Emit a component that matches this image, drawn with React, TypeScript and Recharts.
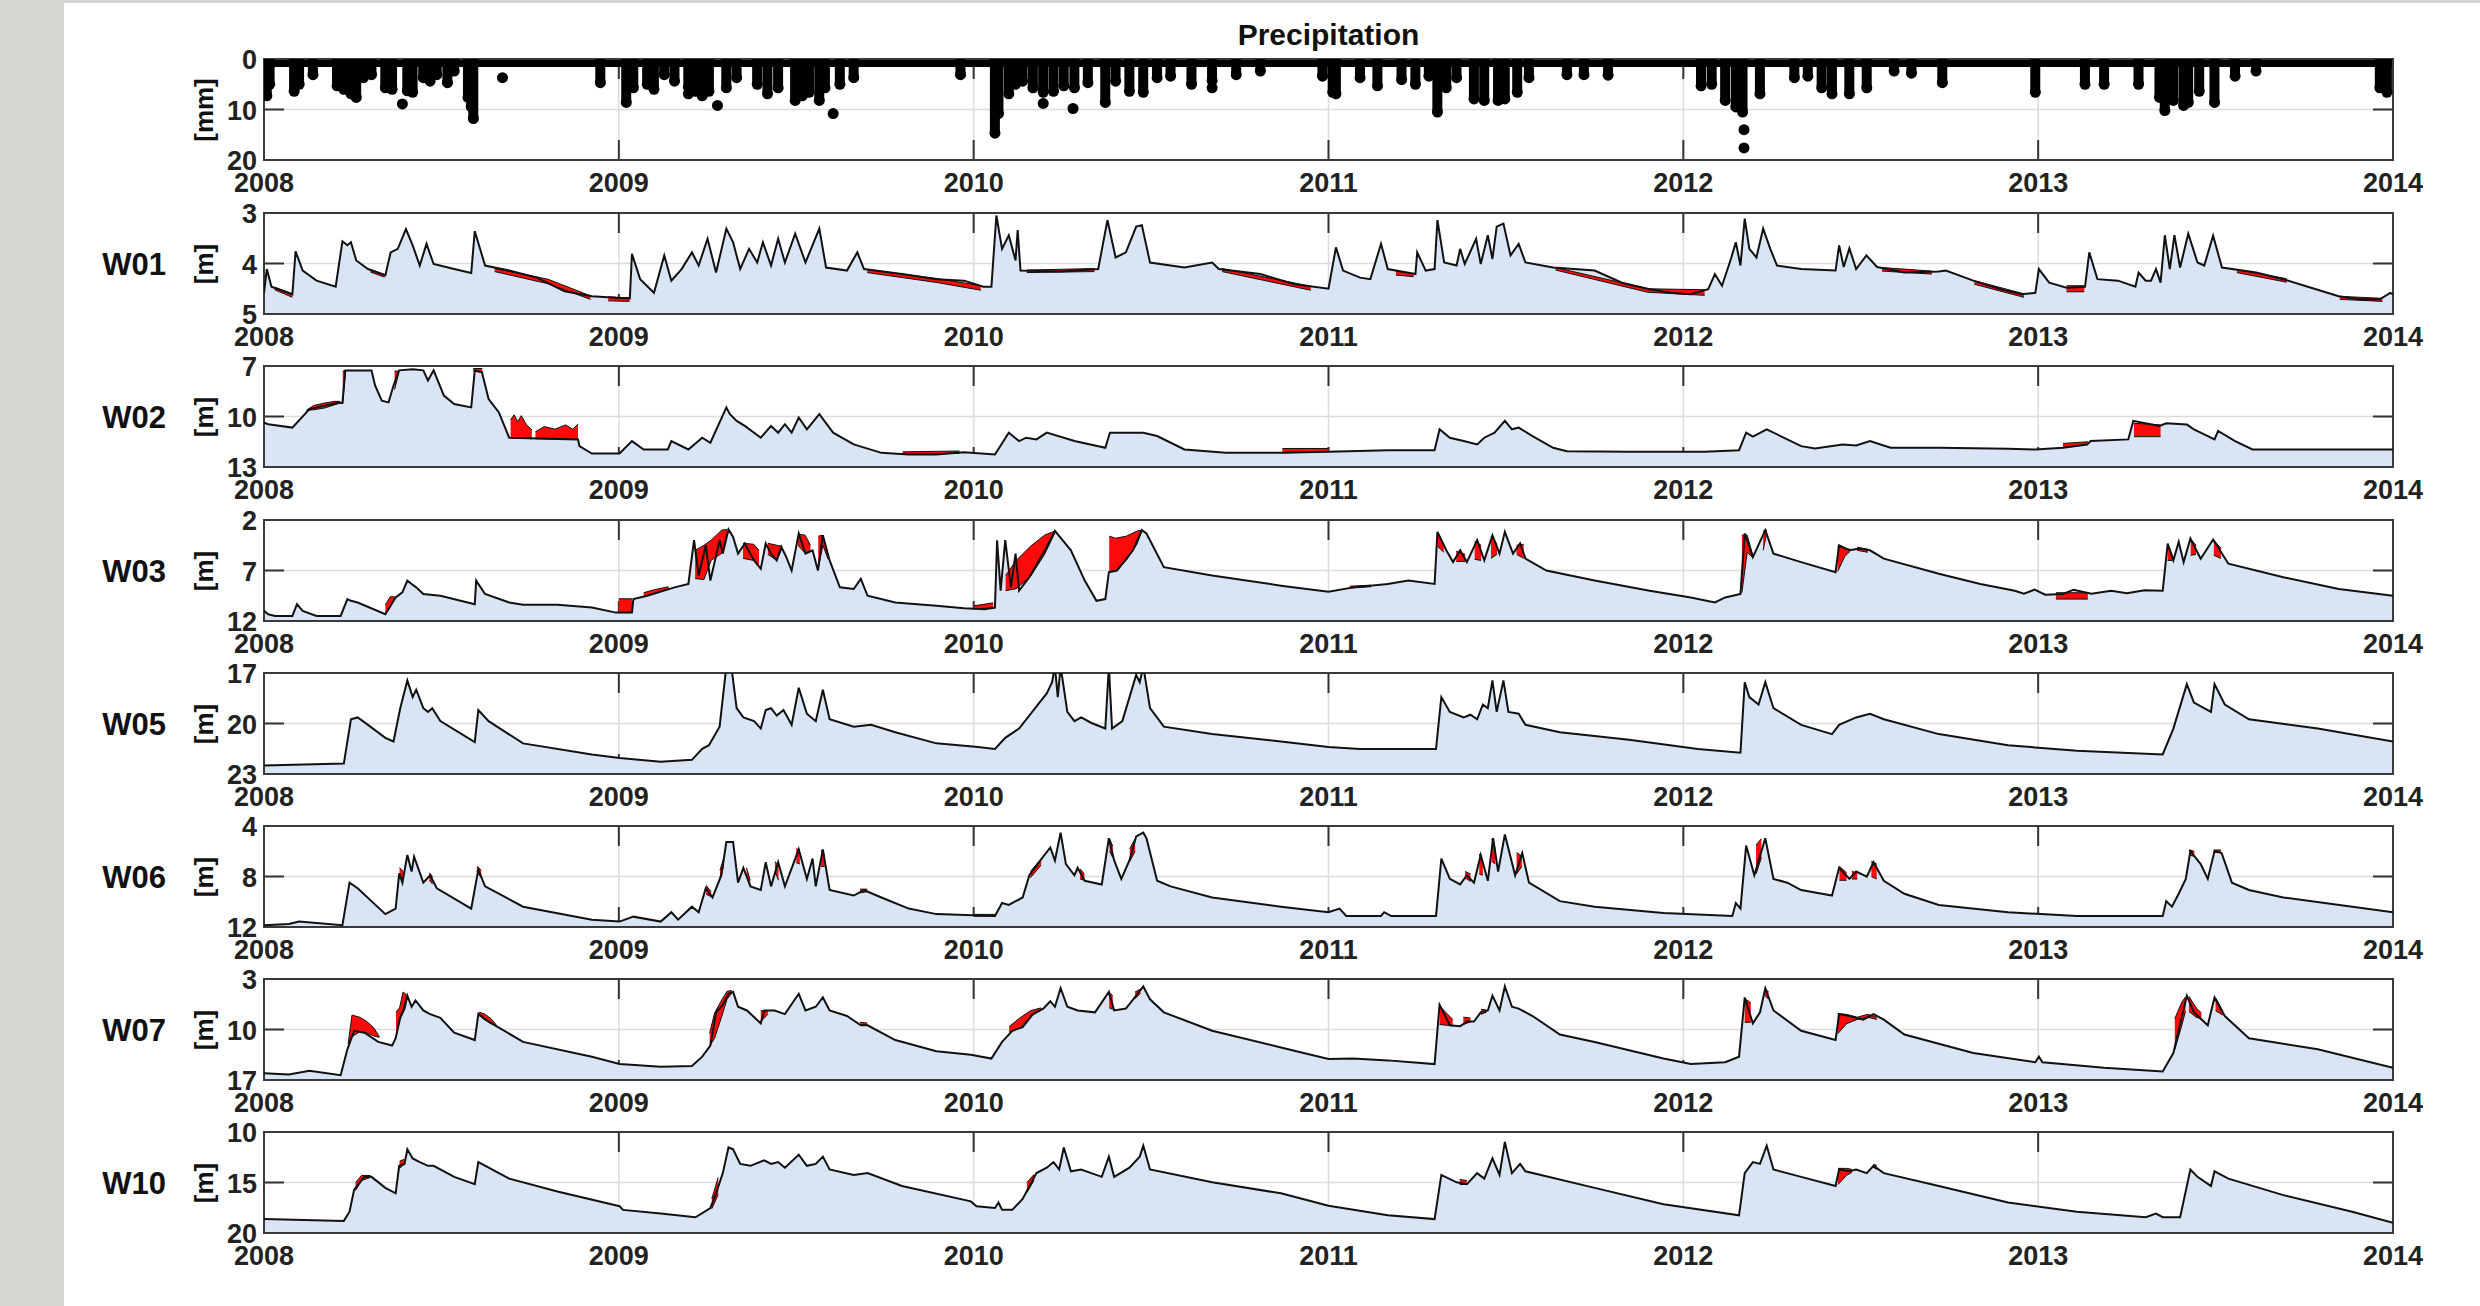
import React from "react";
import {
  Area,
  Bar,
  CartesianGrid,
  ComposedChart,
  Line,
  ReferenceArea,
  Scatter,
  XAxis,
  YAxis,
} from "recharts";

const FONT = '"Liberation Sans", Arial, Helvetica, sans-serif';
const YEARS = [2008, 2009, 2010, 2011, 2012, 2013, 2014];

// layout of the figure (px)
const PAGE_W = 2480;
const PAGE_H = 1306;
const PLOT_LEFT = 264;
const PLOT_RIGHT = 2393;
const PLOT_H = 101;
const PAD_TOP = 20;
const AXIS_H = 45;
const Y_AXIS_W = 60;
const TICK_LEN = 20;
const PANEL_TOPS = [59, 213, 366, 520, 673, 826, 979, 1132];
const COL_W = 10;

const BLUE = "#d9e5f5";
const RED = "#ff0a0a";
const TEXT = "#222";

type Pt = [number, number];
type Band = [number, number, number][];

// ---- precipitation [mm], columns of event depth and loose dots
const precipCols: Pt[] = [
  [2008.008, 7.3], [2008.016, 5.0], [2008.085, 6.4], [2008.099, 5.0], [2008.138, 3.1],
  [2008.206, 5.3], [2008.225, 6.0], [2008.245, 6.9], [2008.26, 7.6], [2008.28, 3.7],
  [2008.303, 3.1], [2008.342, 5.7], [2008.361, 6.0], [2008.404, 6.3], [2008.419, 6.6],
  [2008.449, 3.7], [2008.468, 4.4], [2008.487, 3.1], [2008.517, 4.7], [2008.536, 2.4],
  [2008.575, 7.6], [2008.584, 9.5], [2008.59, 11.8], [2008.948, 4.7], [2009.021, 8.6],
  [2009.041, 5.7], [2009.08, 5.0], [2009.099, 6.0], [2009.128, 3.1], [2009.157, 4.4],
  [2009.196, 5.6], [2009.216, 6.4], [2009.235, 7.3], [2009.254, 6.4], [2009.303, 5.7],
  [2009.332, 3.7], [2009.39, 5.0], [2009.419, 6.9], [2009.449, 5.7], [2009.497, 8.2],
  [2009.517, 7.3], [2009.536, 6.6], [2009.565, 8.2], [2009.581, 5.7], [2009.623, 5.0],
  [2009.662, 3.7], [2009.963, 3.1], [2010.06, 14.7], [2010.07, 10.8], [2010.099, 6.9],
  [2010.118, 5.0], [2010.138, 4.4], [2010.167, 5.7], [2010.196, 6.6], [2010.225, 6.4],
  [2010.254, 5.3], [2010.284, 5.7], [2010.322, 4.7], [2010.371, 8.6], [2010.4, 4.4],
  [2010.439, 6.4], [2010.478, 6.6], [2010.517, 3.7], [2010.555, 3.4], [2010.614, 5.0],
  [2010.672, 4.3], [2010.74, 3.1], [2010.808, 2.4], [2010.983, 3.4],
  [2011.012, 6.6], [2011.021, 6.9], [2011.089, 3.7], [2011.138, 5.3], [2011.206, 4.1],
  [2011.245, 5.0], [2011.283, 3.4], [2011.307, 10.5], [2011.332, 5.7], [2011.361, 3.7],
  [2011.41, 7.9], [2011.439, 8.2], [2011.478, 8.2], [2011.497, 7.9], [2011.532, 6.6],
  [2011.565, 3.7], [2011.672, 3.1], [2011.72, 3.1], [2011.788, 3.2], [2012.05, 5.3],
  [2012.08, 5.0], [2012.118, 8.2], [2012.148, 9.5], [2012.167, 10.5], [2012.216, 6.9],
  [2012.313, 3.7], [2012.351, 3.4], [2012.39, 5.7], [2012.419, 6.9], [2012.468, 6.9],
  [2012.517, 5.7], [2012.594, 2.4], [2012.643, 2.8], [2012.73, 4.7], [2012.992, 6.6],
  [2013.132, 5.0], [2013.186, 5.0], [2013.283, 5.0], [2013.342, 7.6], [2013.357, 10.2],
  [2013.381, 8.2], [2013.41, 9.2], [2013.423, 8.6], [2013.454, 6.4], [2013.497, 8.6],
  [2013.555, 3.4], [2013.614, 2.4], [2013.963, 5.7], [2013.983, 6.6],
];
const precipDots: Pt[] = [
  [2008.39, 8.9], [2008.672, 3.7], [2009.196, 6.9], [2009.278, 9.2], [2009.604, 10.8],
  [2010.196, 8.8], [2010.28, 9.8], [2010.672, 5.7], [2012.171, 14.0], [2012.171, 17.6],
];

// ---- groundwater depth [m] per well, and the red model-misfit bands
const w01Level: Pt[] = [
  [2008.0, 4.58], [2008.008, 4.11], [2008.021, 4.46], [2008.08, 4.61], [2008.089, 3.76],
  [2008.109, 4.14], [2008.148, 4.34], [2008.202, 4.46], [2008.221, 3.56], [2008.235, 3.64],
  [2008.245, 3.58], [2008.26, 3.94], [2008.293, 4.11], [2008.342, 4.23], [2008.357, 3.78],
  [2008.377, 3.71], [2008.4, 3.32], [2008.419, 3.64], [2008.439, 4.04], [2008.458, 3.61],
  [2008.478, 4.01], [2008.536, 4.11], [2008.584, 4.19], [2008.594, 3.36], [2008.623, 4.04],
  [2008.691, 4.14], [2008.769, 4.28], [2008.847, 4.55], [2008.924, 4.65], [2008.992, 4.68],
  [2009.031, 4.69], [2009.037, 3.81], [2009.06, 4.31], [2009.099, 4.58], [2009.128, 3.84],
  [2009.148, 4.34], [2009.177, 4.11], [2009.206, 3.78], [2009.225, 4.04], [2009.25, 3.51],
  [2009.274, 4.18], [2009.303, 3.31], [2009.322, 3.58], [2009.342, 4.11], [2009.367, 3.71],
  [2009.39, 3.98], [2009.406, 3.58], [2009.429, 4.04], [2009.449, 3.51], [2009.468, 3.98],
  [2009.497, 3.41], [2009.526, 3.98], [2009.565, 3.31], [2009.584, 4.08], [2009.643, 4.14],
  [2009.672, 3.78], [2009.691, 4.11], [2009.798, 4.21], [2009.895, 4.31], [2009.973, 4.34],
  [2010.027, 4.46], [2010.05, 4.46], [2010.064, 3.05], [2010.08, 3.71], [2010.099, 3.44],
  [2010.118, 3.94], [2010.124, 3.34], [2010.132, 4.14], [2010.245, 4.16], [2010.351, 4.11],
  [2010.377, 3.14], [2010.4, 3.88], [2010.429, 3.78], [2010.458, 3.27], [2010.474, 3.24],
  [2010.497, 3.98], [2010.594, 4.08], [2010.672, 3.98], [2010.691, 4.11], [2010.808, 4.21],
  [2010.905, 4.41], [2011.0, 4.5], [2011.021, 3.68], [2011.041, 4.14], [2011.089, 4.28],
  [2011.118, 4.31], [2011.148, 3.61], [2011.167, 4.11], [2011.245, 4.21], [2011.25, 3.78],
  [2011.274, 4.14], [2011.299, 4.11], [2011.307, 3.14], [2011.326, 3.98], [2011.361, 4.04],
  [2011.371, 3.71], [2011.384, 4.01], [2011.416, 3.51], [2011.429, 4.01], [2011.449, 3.44],
  [2011.462, 3.91], [2011.474, 3.27], [2011.493, 3.21], [2011.513, 3.84], [2011.536, 3.61],
  [2011.555, 3.98], [2011.633, 4.08], [2011.75, 4.14], [2011.827, 4.38], [2011.905, 4.51],
  [2011.963, 4.58], [2012.021, 4.61], [2012.07, 4.51], [2012.089, 4.21], [2012.109, 4.44],
  [2012.134, 3.91], [2012.148, 3.58], [2012.161, 4.04], [2012.173, 3.11], [2012.186, 3.71],
  [2012.206, 3.88], [2012.225, 3.31], [2012.245, 3.71], [2012.264, 4.04], [2012.332, 4.11],
  [2012.429, 4.14], [2012.439, 3.64], [2012.452, 4.07], [2012.468, 3.7], [2012.487, 4.11],
  [2012.516, 3.84], [2012.546, 4.07], [2012.623, 4.18], [2012.72, 4.16], [2012.74, 4.14],
  [2012.817, 4.34], [2012.895, 4.51], [2012.953, 4.61], [2012.992, 4.58], [2013.002, 4.11],
  [2013.031, 4.38], [2013.08, 4.48], [2013.132, 4.46], [2013.144, 3.78], [2013.167, 4.31],
  [2013.225, 4.34], [2013.274, 4.46], [2013.283, 4.18], [2013.303, 4.34], [2013.318, 4.34],
  [2013.332, 4.11], [2013.345, 4.38], [2013.357, 3.44], [2013.371, 4.11], [2013.384, 3.44],
  [2013.4, 4.08], [2013.423, 3.41], [2013.449, 3.98], [2013.468, 4.04], [2013.493, 3.45],
  [2013.518, 4.08], [2013.614, 4.18], [2013.691, 4.31], [2013.769, 4.48], [2013.847, 4.65],
  [2013.905, 4.71], [2013.963, 4.71], [2013.992, 4.58], [2014.0, 4.61],
];
const w01Red: Band[] = [
  [[2008.03, 4.47, 4.52], [2008.08, 4.6, 4.67]],
  [[2008.3, 4.12, 4.17], [2008.34, 4.22, 4.27]],
  [[2008.65, 4.1, 4.16], [2008.8, 4.31, 4.4], [2008.92, 4.64, 4.71]],
  [[2008.97, 4.66, 4.74], [2009.03, 4.68, 4.75]],
  [[2009.7, 4.12, 4.18], [2009.9, 4.3, 4.38], [2010.02, 4.44, 4.53]],
  [[2010.15, 4.13, 4.18], [2010.34, 4.1, 4.16]],
  [[2010.7, 4.1, 4.16], [2010.95, 4.45, 4.53]],
  [[2011.19, 4.15, 4.23], [2011.24, 4.2, 4.26]],
  [[2011.64, 4.08, 4.13], [2011.9, 4.5, 4.57], [2012.06, 4.52, 4.63]],
  [[2012.56, 4.08, 4.15], [2012.7, 4.15, 4.21]],
  [[2012.82, 4.34, 4.41], [2012.96, 4.6, 4.67]],
  [[2013.08, 4.44, 4.56], [2013.13, 4.44, 4.56]],
  [[2013.56, 4.12, 4.18], [2013.7, 4.3, 4.37]],
  [[2013.85, 4.65, 4.71], [2013.97, 4.69, 4.75]],
];

const w02Level: Pt[] = [
  [2008.0, 10.36], [2008.012, 10.46], [2008.08, 10.66], [2008.128, 9.56], [2008.206, 9.2],
  [2008.221, 9.2], [2008.229, 7.26], [2008.303, 7.26], [2008.313, 8.16], [2008.332, 9.06],
  [2008.351, 9.16], [2008.365, 8.16], [2008.381, 7.26], [2008.419, 7.2], [2008.449, 7.26],
  [2008.462, 7.86], [2008.478, 7.26], [2008.507, 8.76], [2008.536, 9.26], [2008.584, 9.46],
  [2008.594, 7.26], [2008.614, 7.36], [2008.633, 8.96], [2008.662, 9.76], [2008.691, 11.26],
  [2008.885, 11.36], [2008.889, 11.76], [2008.924, 12.2], [2009.002, 12.2], [2009.037, 11.46],
  [2009.07, 11.96], [2009.138, 11.96], [2009.148, 11.46], [2009.196, 11.96], [2009.235, 11.26],
  [2009.258, 11.56], [2009.303, 9.46], [2009.313, 9.86], [2009.332, 10.26], [2009.355, 10.56],
  [2009.4, 11.26], [2009.429, 10.56], [2009.449, 10.96], [2009.468, 10.46], [2009.487, 10.96],
  [2009.507, 10.06], [2009.53, 10.76], [2009.565, 9.86], [2009.604, 10.96], [2009.662, 11.66],
  [2009.74, 12.16], [2009.817, 12.26], [2009.895, 12.26], [2009.973, 12.12], [2010.06, 12.26],
  [2010.099, 10.96], [2010.128, 11.46], [2010.148, 11.26], [2010.177, 11.36], [2010.206, 10.96],
  [2010.284, 11.46], [2010.371, 11.86], [2010.384, 10.96], [2010.478, 10.96], [2010.517, 11.16],
  [2010.594, 11.96], [2010.711, 12.16], [2010.866, 12.16], [2011.0, 12.1], [2011.167, 12.0],
  [2011.299, 12.0], [2011.313, 10.76], [2011.342, 11.26], [2011.381, 11.46], [2011.419, 11.66],
  [2011.439, 11.26], [2011.468, 10.96], [2011.497, 10.26], [2011.517, 10.76], [2011.536, 10.66],
  [2011.575, 11.16], [2011.633, 11.86], [2011.672, 12.06], [2011.847, 12.1], [2012.06, 12.1],
  [2012.157, 12.0], [2012.177, 10.96], [2012.196, 11.2], [2012.235, 10.76], [2012.274, 11.16],
  [2012.332, 11.76], [2012.371, 11.9], [2012.449, 11.66], [2012.487, 11.72], [2012.526, 11.46],
  [2012.584, 11.86], [2012.72, 11.86], [2012.915, 11.92], [2012.992, 11.96], [2013.07, 11.86],
  [2013.138, 11.66], [2013.148, 11.46], [2013.254, 11.36], [2013.268, 10.26], [2013.342, 10.56],
  [2013.361, 10.4], [2013.419, 10.48], [2013.439, 10.76], [2013.497, 11.36], [2013.507, 10.86],
  [2013.555, 11.46], [2013.604, 11.96], [2014.0, 11.96],
];
const w02Red: Band[] = [
  [[2008.12, 9.62, 9.64], [2008.14, 9.35, 9.6], [2008.17, 9.2, 9.5], [2008.2, 9.1, 9.3], [2008.215, 9.1, 9.2]],
  [[2008.222, 7.3, 9.2], [2008.229, 7.3, 7.5]],
  [[2008.368, 7.3, 8.4], [2008.38, 7.3, 7.4]],
  [[2008.59, 7.15, 7.3], [2008.615, 7.15, 7.4]],
  [[2008.695, 10.2, 11.26], [2008.705, 9.9, 11.28], [2008.715, 10.3, 11.28], [2008.725, 9.95, 11.3], [2008.74, 10.5, 11.3], [2008.755, 10.8, 11.32]],
  [[2008.765, 10.9, 11.32], [2008.79, 10.6, 11.33], [2008.82, 10.75, 11.34], [2008.85, 10.5, 11.35], [2008.87, 10.75, 11.35], [2008.885, 10.45, 11.36]],
  [[2009.8, 12.1, 12.26], [2009.96, 12.05, 12.18]],
  [[2010.87, 11.9, 12.16], [2011.0, 11.9, 12.1]],
  [[2013.07, 11.6, 11.86], [2013.14, 11.5, 11.66]],
  [[2013.27, 10.4, 11.2], [2013.345, 10.5, 11.2]],
];

const w03Level: Pt[] = [
  [2008.0, 11.0], [2008.012, 11.33], [2008.031, 11.5], [2008.08, 11.5], [2008.093, 10.33],
  [2008.109, 11.0], [2008.148, 11.5], [2008.216, 11.5], [2008.235, 9.83], [2008.245, 10.0],
  [2008.264, 10.17], [2008.342, 11.33], [2008.371, 9.67], [2008.39, 9.17], [2008.404, 8.0],
  [2008.416, 8.33], [2008.429, 8.67], [2008.449, 9.33], [2008.497, 9.5], [2008.594, 10.33],
  [2008.598, 8.0], [2008.623, 9.33], [2008.691, 10.17], [2008.73, 10.4], [2008.827, 10.4],
  [2008.924, 10.67], [2008.992, 11.17], [2009.037, 11.17], [2009.041, 9.83], [2009.08, 9.5],
  [2009.157, 8.67], [2009.196, 8.33], [2009.212, 4.0], [2009.225, 7.5], [2009.245, 4.5],
  [2009.258, 8.0], [2009.284, 4.0], [2009.293, 5.33], [2009.309, 2.93], [2009.322, 3.67],
  [2009.336, 5.33], [2009.355, 4.33], [2009.381, 6.0], [2009.4, 6.83], [2009.414, 4.33],
  [2009.429, 5.33], [2009.445, 6.0], [2009.458, 4.67], [2009.472, 5.67], [2009.487, 7.0],
  [2009.507, 3.33], [2009.526, 5.33], [2009.546, 5.0], [2009.561, 7.0], [2009.575, 3.5],
  [2009.594, 6.0], [2009.623, 8.67], [2009.662, 8.83], [2009.682, 7.83], [2009.701, 9.5],
  [2009.779, 10.17], [2009.895, 10.5], [2009.973, 10.73], [2010.031, 10.83], [2010.06, 10.67],
  [2010.066, 4.0], [2010.076, 9.0], [2010.089, 4.0], [2010.105, 8.67], [2010.118, 5.33],
  [2010.128, 9.0], [2010.157, 7.67], [2010.206, 4.67], [2010.229, 3.07], [2010.274, 5.0],
  [2010.313, 8.0], [2010.346, 10.0], [2010.371, 9.83], [2010.381, 7.17], [2010.404, 7.0],
  [2010.449, 5.0], [2010.474, 3.0], [2010.487, 3.33], [2010.536, 6.67], [2010.672, 7.5],
  [2010.866, 8.5], [2011.0, 9.1], [2011.07, 8.67], [2011.167, 8.33], [2011.225, 8.0],
  [2011.299, 8.33], [2011.307, 3.17], [2011.332, 5.0], [2011.351, 6.17], [2011.371, 5.0],
  [2011.39, 6.17], [2011.419, 4.0], [2011.439, 6.0], [2011.462, 3.5], [2011.482, 5.33],
  [2011.497, 3.17], [2011.52, 5.33], [2011.54, 4.33], [2011.555, 5.83], [2011.614, 7.0],
  [2011.75, 8.0], [2011.905, 9.0], [2012.021, 9.67], [2012.089, 10.17], [2012.118, 9.67],
  [2012.161, 9.33], [2012.173, 3.33], [2012.196, 5.67], [2012.231, 3.0], [2012.254, 5.33],
  [2012.332, 6.17], [2012.429, 7.17], [2012.439, 4.5], [2012.468, 5.0], [2012.497, 4.83],
  [2012.526, 5.0], [2012.565, 5.83], [2012.72, 7.33], [2012.837, 8.33], [2012.934, 9.0],
  [2012.96, 9.3], [2012.99, 8.9], [2013.02, 9.4], [2013.07, 9.33], [2013.1, 8.9],
  [2013.15, 9.3], [2013.206, 9.0], [2013.25, 9.25], [2013.3, 8.95], [2013.351, 9.0],
  [2013.365, 4.33], [2013.381, 6.0], [2013.396, 4.17], [2013.41, 6.17], [2013.429, 3.83],
  [2013.458, 5.83], [2013.493, 3.93], [2013.536, 6.33], [2013.691, 7.67], [2013.847, 8.83],
  [2014.0, 9.5],
];
const w03Red: Band[] = [
  [[2008.342, 10.4, 11.3], [2008.356, 9.6, 10.6], [2008.368, 9.6, 9.8]],
  [[2009.0, 9.8, 11.17], [2009.037, 9.8, 11.17]],
  [[2009.07, 9.2, 9.6], [2009.1, 8.9, 9.3], [2009.14, 8.6, 8.8]],
  [[2009.215, 5.0, 7.8], [2009.24, 4.5, 7.9], [2009.26, 4.0, 6.0], [2009.29, 3.0, 5.3], [2009.305, 2.95, 3.3]],
  [[2009.35, 4.3, 5.8], [2009.38, 4.4, 6.0], [2009.395, 5.0, 6.6]],
  [[2009.42, 4.3, 5.4], [2009.445, 4.5, 6.0], [2009.46, 4.6, 4.8]],
  [[2009.505, 3.4, 4.5], [2009.525, 3.5, 5.3], [2009.54, 4.5, 5.0]],
  [[2009.562, 3.6, 6.8], [2009.575, 3.5, 4.5], [2009.59, 5.5, 5.9]],
  [[2010.0, 10.5, 10.8], [2010.055, 10.2, 10.7]],
  [[2010.09, 7.5, 9.0], [2010.12, 6.0, 8.8], [2010.16, 4.6, 7.6], [2010.2, 3.5, 5.4], [2010.23, 3.07, 3.2]],
  [[2010.382, 3.6, 7.1], [2010.4, 3.8, 7.0], [2010.43, 3.6, 6.0], [2010.46, 3.1, 4.4], [2010.474, 3.0, 3.1]],
  [[2011.06, 8.55, 8.75], [2011.12, 8.45, 8.6]],
  [[2011.307, 3.2, 4.6], [2011.325, 4.4, 5.2]],
  [[2011.36, 5.1, 6.1], [2011.385, 5.4, 6.1]],
  [[2011.412, 4.1, 5.9], [2011.43, 4.5, 6.0]],
  [[2011.458, 3.6, 5.8], [2011.475, 4.4, 5.4]],
  [[2011.53, 4.5, 5.4], [2011.55, 4.4, 5.8]],
  [[2012.165, 3.5, 9.2], [2012.18, 3.5, 5.2], [2012.195, 5.4, 5.7]],
  [[2012.225, 3.1, 5.0], [2012.235, 3.0, 3.3]],
  [[2012.435, 4.6, 7.1], [2012.455, 4.8, 5.6], [2012.47, 4.9, 5.1]],
  [[2012.49, 4.7, 5.0], [2012.52, 4.9, 5.2]],
  [[2013.05, 9.2, 9.83], [2013.14, 9.2, 9.83]],
  [[2013.365, 4.4, 6.0], [2013.378, 5.5, 6.0]],
  [[2013.43, 3.9, 5.5], [2013.445, 4.5, 5.4]],
  [[2013.495, 4.0, 5.5], [2013.515, 4.8, 5.8]],
];

const w05Level: Pt[] = [
  [2008.0, 22.49], [2008.225, 22.38], [2008.245, 19.75], [2008.264, 19.64], [2008.293, 20.08],
  [2008.342, 20.85], [2008.365, 21.07], [2008.384, 19.09], [2008.404, 17.44], [2008.419, 18.43],
  [2008.429, 17.99], [2008.449, 19.09], [2008.462, 19.31], [2008.474, 19.09], [2008.497, 19.86],
  [2008.594, 21.11], [2008.604, 19.2], [2008.633, 19.86], [2008.73, 21.18], [2008.924, 21.84],
  [2009.002, 22.05], [2009.118, 22.27], [2009.206, 22.16], [2009.235, 21.51], [2009.254, 21.29],
  [2009.284, 20.19], [2009.303, 16.6], [2009.317, 16.6], [2009.332, 19.09], [2009.351, 19.64],
  [2009.381, 19.86], [2009.4, 20.3], [2009.414, 19.2], [2009.429, 19.09], [2009.445, 19.53],
  [2009.464, 19.2], [2009.487, 20.08], [2009.507, 17.88], [2009.53, 19.42], [2009.555, 19.86],
  [2009.575, 17.99], [2009.594, 19.75], [2009.662, 20.19], [2009.711, 20.08], [2009.779, 20.52],
  [2009.895, 21.18], [2010.012, 21.4], [2010.06, 21.51], [2010.089, 20.85], [2010.128, 20.3],
  [2010.177, 18.98], [2010.206, 18.21], [2010.221, 17.55], [2010.229, 16.6], [2010.237, 18.43],
  [2010.245, 16.6], [2010.264, 19.31], [2010.284, 19.86], [2010.303, 19.64], [2010.332, 19.97],
  [2010.371, 20.3], [2010.381, 16.6], [2010.39, 20.3], [2010.419, 19.86], [2010.458, 17.11],
  [2010.468, 17.55], [2010.478, 16.6], [2010.497, 19.09], [2010.536, 20.19], [2010.672, 20.63],
  [2010.866, 21.07], [2011.0, 21.4], [2011.089, 21.51], [2011.303, 21.51], [2011.318, 18.43],
  [2011.342, 19.31], [2011.381, 19.64], [2011.4, 19.48], [2011.419, 19.75], [2011.435, 18.87],
  [2011.449, 19.09], [2011.462, 17.44], [2011.474, 19.31], [2011.493, 17.44], [2011.507, 19.31],
  [2011.536, 19.42], [2011.555, 20.08], [2011.652, 20.52], [2011.847, 20.96], [2012.041, 21.51],
  [2012.161, 21.73], [2012.173, 17.55], [2012.186, 18.43], [2012.212, 18.87], [2012.231, 17.55],
  [2012.254, 19.09], [2012.332, 20.08], [2012.419, 20.63], [2012.439, 20.08], [2012.487, 19.64],
  [2012.526, 19.42], [2012.565, 19.75], [2012.72, 20.63], [2012.915, 21.29], [2013.109, 21.62],
  [2013.351, 21.84], [2013.381, 20.3], [2013.419, 17.66], [2013.439, 18.76], [2013.487, 19.31],
  [2013.497, 17.66], [2013.526, 18.87], [2013.594, 19.75], [2013.788, 20.3], [2014.0, 21.07],
];
const w05Red: Band[] = [];

const w06Level: Pt[] = [
  [2008.0, 11.86], [2008.07, 11.77], [2008.099, 11.57], [2008.221, 11.86], [2008.241, 8.49],
  [2008.264, 8.93], [2008.342, 10.98], [2008.371, 10.54], [2008.381, 7.75], [2008.39, 8.49],
  [2008.404, 6.29], [2008.416, 7.61], [2008.423, 6.43], [2008.449, 8.49], [2008.468, 7.9],
  [2008.487, 8.93], [2008.584, 10.54], [2008.604, 7.46], [2008.623, 8.78], [2008.73, 10.39],
  [2008.924, 11.42], [2009.002, 11.57], [2009.041, 11.18], [2009.118, 11.57], [2009.148, 10.83],
  [2009.167, 11.42], [2009.206, 10.39], [2009.225, 10.83], [2009.245, 8.93], [2009.264, 9.66],
  [2009.289, 7.9], [2009.303, 5.26], [2009.322, 5.26], [2009.336, 8.49], [2009.351, 7.31],
  [2009.371, 8.78], [2009.4, 9.07], [2009.414, 6.87], [2009.429, 8.78], [2009.449, 6.87],
  [2009.468, 8.78], [2009.507, 5.85], [2009.53, 8.19], [2009.546, 6.58], [2009.555, 8.78],
  [2009.575, 5.85], [2009.594, 9.07], [2009.662, 9.51], [2009.691, 9.07], [2009.74, 9.66],
  [2009.817, 10.54], [2009.895, 10.98], [2010.06, 11.13], [2010.08, 10.1], [2010.099, 10.25],
  [2010.138, 9.66], [2010.157, 7.9], [2010.196, 6.43], [2010.216, 5.7], [2010.229, 6.73],
  [2010.245, 4.53], [2010.26, 7.02], [2010.284, 7.9], [2010.293, 7.31], [2010.313, 8.34],
  [2010.361, 8.63], [2010.381, 4.97], [2010.396, 6.73], [2010.416, 8.19], [2010.439, 6.73],
  [2010.458, 4.82], [2010.478, 4.53], [2010.487, 4.97], [2010.517, 8.34], [2010.555, 8.78],
  [2010.672, 9.66], [2010.866, 10.39], [2011.0, 10.83], [2011.031, 10.54], [2011.05, 11.13],
  [2011.148, 11.13], [2011.157, 10.83], [2011.177, 11.13], [2011.303, 11.13], [2011.318, 6.58],
  [2011.342, 8.19], [2011.371, 8.63], [2011.39, 7.9], [2011.41, 8.49], [2011.429, 6.29],
  [2011.449, 8.34], [2011.464, 4.97], [2011.478, 7.61], [2011.497, 4.67], [2011.526, 7.9],
  [2011.546, 6.14], [2011.565, 8.49], [2011.652, 9.95], [2011.75, 10.39], [2011.944, 10.89],
  [2012.138, 11.13], [2012.148, 10.1], [2012.161, 10.54], [2012.177, 5.55], [2012.2, 7.9],
  [2012.231, 4.97], [2012.254, 8.19], [2012.293, 8.49], [2012.332, 9.07], [2012.419, 9.51],
  [2012.439, 7.31], [2012.468, 8.19], [2012.487, 7.61], [2012.517, 8.02], [2012.536, 6.87],
  [2012.565, 8.34], [2012.623, 9.37], [2012.72, 10.25], [2012.915, 10.83], [2013.109, 11.13],
  [2013.351, 11.13], [2013.361, 9.95], [2013.377, 10.39], [2013.396, 9.37], [2013.416, 8.19],
  [2013.429, 5.99], [2013.458, 7.02], [2013.478, 8.19], [2013.497, 5.99], [2013.517, 6.14],
  [2013.546, 8.49], [2013.594, 9.07], [2013.691, 9.66], [2014.0, 10.83],
];
const w06Red: Band[] = [
  [[2008.382, 7.3, 7.9], [2008.392, 7.6, 8.4]],
  [[2008.466, 7.7, 8.3], [2008.475, 8.0, 8.6]],
  [[2008.6, 7.2, 7.6], [2008.612, 7.5, 8.1]],
  [[2009.246, 8.7, 9.4], [2009.26, 9.2, 9.6]],
  [[2009.285, 7.5, 8.1], [2009.295, 6.6, 7.2]],
  [[2009.36, 7.3, 8.0], [2009.37, 8.3, 8.7]],
  [[2009.44, 6.8, 7.6], [2009.45, 7.2, 8.3]],
  [[2009.5, 5.8, 6.9], [2009.51, 5.9, 7.0]],
  [[2009.57, 5.9, 7.2], [2009.58, 6.3, 7.2]],
  [[2009.68, 9.0, 9.3], [2009.7, 9.0, 9.2]],
  [[2010.0, 11.0, 11.15], [2010.06, 11.0, 11.15]],
  [[2010.16, 7.6, 8.1], [2010.19, 6.6, 7.1]],
  [[2010.3, 7.4, 8.2], [2010.312, 7.8, 8.3]],
  [[2010.383, 5.0, 6.0], [2010.392, 5.6, 6.5]],
  [[2010.44, 5.8, 6.8], [2010.455, 5.0, 6.0]],
  [[2011.385, 7.6, 8.1], [2011.4, 7.8, 8.4]],
  [[2011.425, 6.2, 7.8], [2011.435, 6.9, 7.9]],
  [[2011.46, 5.0, 6.8], [2011.47, 5.8, 7.0]],
  [[2011.53, 6.1, 7.8], [2011.545, 6.4, 7.2]],
  [[2012.205, 5.5, 7.8], [2012.22, 5.0, 6.5]],
  [[2012.44, 7.2, 8.3], [2012.46, 7.7, 8.3]],
  [[2012.475, 7.6, 8.2], [2012.49, 7.7, 8.2]],
  [[2012.53, 6.8, 8.0], [2012.545, 7.0, 8.2]],
  [[2013.425, 5.9, 6.3], [2013.44, 6.0, 6.4]],
  [[2013.495, 5.9, 6.1], [2013.515, 5.9, 6.1]],
];

const w07Level: Pt[] = [
  [2008.0, 16.08], [2008.07, 16.23], [2008.128, 15.72], [2008.216, 16.33], [2008.235, 12.74],
  [2008.254, 10.18], [2008.283, 10.44], [2008.322, 11.72], [2008.361, 12.23], [2008.371, 11.21],
  [2008.384, 8.38], [2008.396, 7.1], [2008.404, 5.31], [2008.416, 6.85], [2008.427, 5.97],
  [2008.449, 7.36], [2008.468, 7.87], [2008.497, 8.38], [2008.536, 10.44], [2008.594, 11.46],
  [2008.604, 7.87], [2008.633, 8.9], [2008.73, 11.72], [2008.924, 13.77], [2009.002, 14.79],
  [2009.118, 15.15], [2009.206, 15.05], [2009.235, 13.77], [2009.258, 12.23], [2009.274, 7.62],
  [2009.293, 6.59], [2009.309, 5.05], [2009.322, 4.79], [2009.336, 6.85], [2009.361, 7.36],
  [2009.4, 9.15], [2009.41, 7.36], [2009.439, 7.36], [2009.468, 7.87], [2009.507, 5.05],
  [2009.526, 7.36], [2009.555, 6.85], [2009.575, 5.56], [2009.594, 7.36], [2009.643, 8.13],
  [2009.682, 9.41], [2009.701, 9.41], [2009.779, 11.46], [2009.895, 13.0], [2009.992, 13.51],
  [2010.05, 14.03], [2010.08, 11.72], [2010.109, 10.18], [2010.138, 9.67], [2010.167, 7.87],
  [2010.196, 7.1], [2010.216, 6.08], [2010.229, 6.85], [2010.245, 4.28], [2010.264, 6.85],
  [2010.293, 7.36], [2010.342, 7.62], [2010.381, 4.79], [2010.396, 7.36], [2010.429, 7.1],
  [2010.458, 5.31], [2010.478, 4.03], [2010.497, 5.82], [2010.536, 7.62], [2010.672, 10.18],
  [2010.866, 12.49], [2011.0, 14.1], [2011.07, 14.03], [2011.167, 14.28], [2011.299, 14.79],
  [2011.313, 6.59], [2011.342, 9.41], [2011.371, 9.56], [2011.39, 8.9], [2011.41, 8.9],
  [2011.429, 7.62], [2011.449, 7.36], [2011.462, 5.31], [2011.482, 7.36], [2011.497, 4.03],
  [2011.517, 6.85], [2011.536, 7.1], [2011.575, 8.13], [2011.652, 10.69], [2011.75, 11.72],
  [2011.944, 14.03], [2012.021, 14.79], [2012.118, 14.54], [2012.157, 13.77], [2012.173, 5.56],
  [2012.196, 9.15], [2012.216, 7.62], [2012.231, 4.28], [2012.254, 7.36], [2012.332, 10.18],
  [2012.429, 11.46], [2012.439, 7.87], [2012.468, 8.13], [2012.507, 8.64], [2012.536, 7.87],
  [2012.565, 8.64], [2012.623, 10.69], [2012.817, 13.26], [2012.992, 14.54], [2013.002, 13.77],
  [2013.012, 14.54], [2013.186, 15.31], [2013.351, 15.82], [2013.381, 13.26], [2013.419, 5.31],
  [2013.439, 7.62], [2013.478, 9.41], [2013.497, 5.56], [2013.526, 8.13], [2013.594, 11.21],
  [2013.788, 12.74], [2014.0, 15.31],
];
const w07Red: Band[] = [
  [[2008.237, 12.0, 12.6], [2008.248, 8.0, 11.0], [2008.27, 8.3, 10.3], [2008.29, 8.9, 10.5], [2008.31, 9.8, 10.9], [2008.325, 11.0, 11.1]],
  [[2008.372, 7.6, 11.1], [2008.382, 7.0, 8.5], [2008.392, 4.8, 7.2], [2008.402, 5.2, 5.4]],
  [[2008.605, 7.6, 8.0], [2008.62, 7.8, 8.6], [2008.64, 8.5, 9.2], [2008.655, 9.4, 9.5]],
  [[2009.256, 10.5, 12.3], [2009.27, 7.7, 11.2], [2009.29, 5.9, 8.2], [2009.305, 4.7, 5.8], [2009.318, 4.6, 5.0]],
  [[2009.4, 7.4, 8.9], [2009.42, 7.4, 7.9]],
  [[2009.68, 9.0, 9.4], [2009.7, 9.1, 9.4]],
  [[2010.1, 9.6, 10.4], [2010.13, 8.4, 9.8], [2010.16, 7.4, 8.2], [2010.19, 7.0, 7.3]],
  [[2010.382, 4.9, 7.0], [2010.392, 5.3, 7.2]],
  [[2010.455, 4.8, 5.7], [2010.47, 4.4, 5.0]],
  [[2011.313, 6.7, 9.3], [2011.33, 7.6, 9.4], [2011.35, 8.6, 9.5]],
  [[2011.38, 8.3, 9.3], [2011.4, 8.4, 8.95]],
  [[2011.43, 7.2, 7.9], [2011.445, 7.3, 7.6]],
  [[2012.173, 5.7, 9.0], [2012.19, 6.3, 9.0]],
  [[2012.23, 4.3, 5.3], [2012.24, 4.8, 5.8]],
  [[2012.435, 7.8, 10.6], [2012.46, 7.9, 9.2], [2012.49, 8.3, 8.6], [2012.52, 7.9, 8.3], [2012.545, 8.3, 8.6]],
  [[2013.385, 8.5, 12.8], [2013.405, 6.2, 9.4], [2013.415, 5.5, 7.5]],
  [[2013.425, 5.4, 7.5], [2013.445, 7.0, 8.3], [2013.46, 7.7, 8.5]],
  [[2013.5, 5.6, 7.4], [2013.52, 7.4, 8.0]],
];

const w10Level: Pt[] = [
  [2008.0, 18.62], [2008.225, 18.8], [2008.241, 17.89], [2008.254, 15.71], [2008.283, 14.44],
  [2008.303, 14.44], [2008.342, 15.53], [2008.371, 16.07], [2008.381, 13.35], [2008.396, 13.16],
  [2008.404, 11.71], [2008.419, 12.62], [2008.439, 12.98], [2008.462, 13.35], [2008.478, 13.35],
  [2008.536, 14.44], [2008.594, 15.16], [2008.604, 12.98], [2008.691, 14.62], [2008.827, 15.89],
  [2009.002, 17.35], [2009.012, 17.71], [2009.118, 18.07], [2009.216, 18.44], [2009.258, 17.53],
  [2009.274, 16.07], [2009.293, 14.07], [2009.309, 11.53], [2009.322, 11.71], [2009.342, 13.16],
  [2009.371, 13.35], [2009.41, 12.8], [2009.429, 13.16], [2009.449, 12.98], [2009.468, 13.53],
  [2009.507, 12.25], [2009.53, 13.35], [2009.555, 13.16], [2009.575, 12.44], [2009.594, 13.71],
  [2009.662, 14.25], [2009.701, 14.07], [2009.798, 15.35], [2009.992, 16.87], [2010.008, 17.35],
  [2010.06, 17.53], [2010.07, 16.98], [2010.08, 17.71], [2010.109, 17.71], [2010.138, 16.62],
  [2010.177, 14.07], [2010.206, 13.53], [2010.225, 12.98], [2010.241, 13.71], [2010.254, 11.53],
  [2010.274, 13.89], [2010.303, 13.71], [2010.361, 14.44], [2010.381, 12.44], [2010.396, 14.44],
  [2010.439, 13.53], [2010.468, 12.44], [2010.478, 11.35], [2010.497, 13.71], [2010.672, 14.98],
  [2010.866, 16.07], [2011.0, 17.3], [2011.167, 18.25], [2011.299, 18.62], [2011.318, 14.25],
  [2011.361, 14.98], [2011.39, 15.16], [2011.419, 14.07], [2011.439, 14.62], [2011.462, 12.62],
  [2011.482, 14.25], [2011.497, 10.98], [2011.517, 14.07], [2011.54, 13.16], [2011.555, 13.89],
  [2011.75, 15.53], [2011.944, 17.16], [2012.157, 18.25], [2012.173, 14.07], [2012.196, 12.98],
  [2012.216, 13.16], [2012.235, 11.35], [2012.254, 13.71], [2012.332, 14.44], [2012.429, 15.35],
  [2012.439, 13.71], [2012.468, 13.89], [2012.487, 13.71], [2012.517, 14.07], [2012.536, 13.35],
  [2012.565, 14.07], [2012.72, 15.35], [2012.915, 16.98], [2013.109, 17.89], [2013.303, 18.44],
  [2013.332, 18.07], [2013.351, 18.44], [2013.4, 18.44], [2013.429, 13.71], [2013.449, 14.44],
  [2013.487, 15.35], [2013.497, 13.89], [2013.536, 14.62], [2013.691, 16.25], [2013.885, 17.89],
  [2014.0, 18.98],
];
const w10Red: Band[] = [
  [[2008.258, 15.0, 15.8], [2008.275, 14.3, 14.8], [2008.3, 14.3, 14.5]],
  [[2008.382, 12.9, 13.6], [2008.395, 12.7, 13.2]],
  [[2009.262, 16.6, 17.6], [2009.28, 14.5, 16.2]],
  [[2010.15, 15.0, 16.0], [2010.17, 14.2, 14.8]],
  [[2011.37, 14.7, 15.2], [2011.39, 14.8, 15.2]],
  [[2012.436, 13.6, 15.2], [2012.46, 13.6, 14.3], [2012.475, 13.7, 14.0]],
  [[2012.535, 13.2, 13.5], [2012.545, 13.3, 13.7]],
];

const WELLS = [
  { name: "W01", domain: [3, 5], ticks: [3, 4, 5], level: w01Level, red: w01Red },
  { name: "W02", domain: [7, 13], ticks: [7, 10, 13], level: w02Level, red: w02Red },
  { name: "W03", domain: [2, 12], ticks: [2, 7, 12], level: w03Level, red: w03Red },
  { name: "W05", domain: [17, 23], ticks: [17, 20, 23], level: w05Level, red: w05Red },
  { name: "W06", domain: [4, 12], ticks: [4, 8, 12], level: w06Level, red: w06Red },
  { name: "W07", domain: [3, 17], ticks: [3, 10, 17], level: w07Level, red: w07Red },
  { name: "W10", domain: [10, 20], ticks: [10, 15, 20], level: w10Level, red: w10Red },
];

function bandRows(segs: Band[]) {
  const rows: { t: number; r: [number, number] | null }[] = [];
  segs.forEach((seg) => {
    if (rows.length) rows.push({ t: seg[0][0], r: null });
    seg.forEach(([t, a, b]) => rows.push({ t, r: [a, b] }));
  });
  return rows;
}

// grid lines with MATLAB-style inward ticks at both ends
function hGrid(p: any) {
  return (
    <g key={`h-${p.index}`}>
      <line x1={p.x1} x2={p.x2} y1={p.y1} y2={p.y2} stroke="#dcdcdc" strokeWidth={1.5} />
      <line x1={p.x1} x2={p.x1 + TICK_LEN} y1={p.y1} y2={p.y1} stroke="#333" strokeWidth={2} />
      <line x1={p.x2 - TICK_LEN} x2={p.x2} y1={p.y2} y2={p.y2} stroke="#333" strokeWidth={2} />
    </g>
  );
}
function vGrid(p: any) {
  const top = Math.min(p.y1, p.y2);
  const bot = Math.max(p.y1, p.y2);
  return (
    <g key={`v-${p.index}`}>
      <line x1={p.x1} x2={p.x2} y1={p.y1} y2={p.y2} stroke="#dcdcdc" strokeWidth={1.5} />
      <line x1={p.x1} x2={p.x1} y1={top} y2={top + TICK_LEN} stroke="#333" strokeWidth={2} />
      <line x1={p.x1} x2={p.x1} y1={bot - TICK_LEN} y2={bot} stroke="#333" strokeWidth={2} />
    </g>
  );
}

function XTick({ x, y, payload }: any) {
  return (
    <text x={x} y={y + 23} textAnchor="middle" dominantBaseline="central" fontSize={27} fontWeight={700} fill={TEXT} fontFamily={FONT}>
      {payload.value}
    </text>
  );
}
function YTick({ x, y, payload }: any) {
  return (
    <text x={x - 7} y={y + 1} textAnchor="end" dominantBaseline="central" fontSize={27} fontWeight={700} fill={TEXT} fontFamily={FONT}>
      {payload.value}
    </text>
  );
}

// precipitation column: keep the library's vertical extent, widen around its centre
function Column(p: any) {
  const h = Number(p.height) || 0;
  if (!h) return <g />;
  const cx = Number(p.x) + (Number(p.width) || 0) / 2;
  const y0 = Math.min(p.y, p.y + h);
  return <rect x={cx - COL_W / 2} y={y0} width={COL_W} height={Math.abs(h)} fill="#000" />;
}
function Dot(p: any) {
  return <circle cx={p.cx} cy={p.cy} r={5.5} fill="#000" />;
}

const chartBox = (top: number): React.CSSProperties => ({ position: "absolute", left: 0, top: top - PAD_TOP });
const MARGIN = { top: PAD_TOP, right: PAGE_W - PLOT_RIGHT, bottom: 0, left: PLOT_LEFT - Y_AXIS_W };
const CHART_H = PAD_TOP + PLOT_H + AXIS_H;

function Axes({ domain, ticks }: { domain: number[]; ticks: number[] }) {
  return (
    <>
      <CartesianGrid horizontal={hGrid} vertical={vGrid} />
      <XAxis
        dataKey="t"
        type="number"
        domain={[2008, 2014]}
        ticks={YEARS}
        allowDataOverflow
        height={AXIS_H}
        tickSize={0}
        tickMargin={0}
        tickLine={false}
        axisLine={false}
        tick={<XTick />}
        interval={0}
      />
      <YAxis
        type="number"
        domain={domain}
        ticks={ticks}
        reversed
        allowDataOverflow
        width={Y_AXIS_W}
        tickSize={0}
        tickMargin={0}
        tickLine={false}
        axisLine={false}
        tick={<YTick />}
        interval={0}
      />
    </>
  );
}

function Label({ x, y, size, rotate, children }: any) {
  return (
    <div
      style={{
        position: "absolute",
        left: x,
        top: y,
        transform: `translate(-50%, -50%)${rotate ? " rotate(-90deg)" : ""}`,
        fontFamily: FONT,
        fontWeight: 700,
        fontSize: size,
        color: "#111",
        whiteSpace: "nowrap",
        lineHeight: 1,
      }}
    >
      {children}
    </div>
  );
}

function PrecipPanel() {
  const top = PANEL_TOPS[0];
  const cols = precipCols.map(([t, p]) => ({ t, p }));
  const dots = [...precipCols, ...precipDots].map(([t, p]) => ({ t, p }));
  return (
    <div style={chartBox(top)}>
      <ComposedChart width={PAGE_W} height={CHART_H} margin={MARGIN} data={cols}>
        {Axes({ domain: [0, 20], ticks: [0, 10, 20] })}
        <ReferenceArea x1={2008} x2={2014} y1={0} y2={1.6} fill="#000" fillOpacity={1} stroke="none" />
        <Bar dataKey="p" fill="#000" shape={Column} minPointSize={0} isAnimationActive={false} />
        <Scatter data={dots} dataKey="p" fill="#000" shape={Dot} isAnimationActive={false} />
        <ReferenceArea x1={2008} x2={2014} y1={0} y2={20} fill="none" stroke="#3a3a3a" strokeWidth={2} />
      </ComposedChart>
    </div>
  );
}

function WellPanel({ well, top }: { well: (typeof WELLS)[number]; top: number }) {
  const rows = well.level.map(([t, h]) => ({ t, h }));
  const red = bandRows(well.red);
  const [lo, hi] = well.domain;
  return (
    <div style={chartBox(top)}>
      <ComposedChart width={PAGE_W} height={CHART_H} margin={MARGIN}>
        {Axes({ domain: well.domain, ticks: well.ticks })}
        <Area data={rows} dataKey="h" type="linear" baseValue={hi} fill={BLUE} fillOpacity={1} stroke="none" isAnimationActive={false} />
        {red.length > 0 && (
          <Area data={red} dataKey="r" type="linear" fill={RED} fillOpacity={1} stroke="#111" strokeWidth={1} connectNulls={false} isAnimationActive={false} />
        )}
        <Line data={rows} dataKey="h" type="linear" stroke="#111" strokeWidth={2} dot={false} isAnimationActive={false} />
        <ReferenceArea x1={2008} x2={2014} y1={lo} y2={hi} fill="none" stroke="#3a3a3a" strokeWidth={2} />
      </ComposedChart>
    </div>
  );
}

export default function App() {
  const midY = (top: number) => top + PLOT_H / 2;
  return (
    <div style={{ position: "absolute", left: 0, top: 0, width: PAGE_W, height: PAGE_H, background: "#d4d7d1", overflow: "hidden" }}>
      <div style={{ position: "absolute", left: 64, top: 3, right: 0, bottom: 0, background: "#fff" }} />
      <Label x={(PLOT_LEFT + PLOT_RIGHT) / 2} y={35} size={30}>Precipitation</Label>
      <PrecipPanel />
      <Label x={204} y={midY(PANEL_TOPS[0])} size={26} rotate>[mm]</Label>
      {WELLS.map((w, i) => (
        <React.Fragment key={w.name}>
          <WellPanel well={w} top={PANEL_TOPS[i + 1]} />
          <Label x={134} y={midY(PANEL_TOPS[i + 1])} size={31}>{w.name}</Label>
          <Label x={204} y={midY(PANEL_TOPS[i + 1])} size={26} rotate>[m]</Label>
        </React.Fragment>
      ))}
    </div>
  );
}
